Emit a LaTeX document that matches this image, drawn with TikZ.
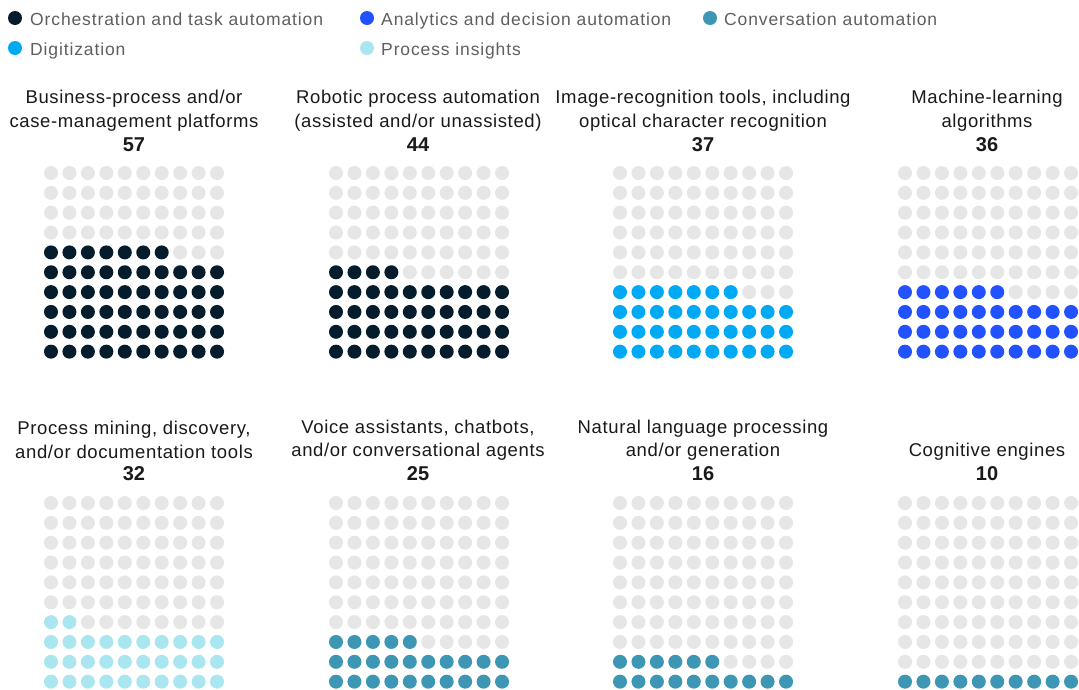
\documentclass[tikz,border=0pt]{standalone}
\usepackage{fontspec}
\setmainfont{Liberation Sans}
\definecolor{orchblue}{HTML}{051C2C}
\definecolor{analyticsblue}{HTML}{2251FF}
\definecolor{digicyan}{HTML}{00A9F4}
\definecolor{insightcyan}{HTML}{AAE6F0}
\definecolor{convteal}{HTML}{3C96B4}
\definecolor{dotgrey}{HTML}{E6E6E6}
\definecolor{legendgrey}{HTML}{5F5F5F}
\definecolor{titleblack}{HTML}{1A1A1A}
\tikzset{
  legendtext/.style={anchor=base west, inner sep=0pt, text=legendgrey,
    font=\fontsize{17.5}{20}\selectfont\addfontfeature{LetterSpace=5}},
  legenddot/.style={circle, inner sep=0pt, minimum size=14pt},
  paneltitle/.style={align=center, inner sep=0pt, text=titleblack,
    font=\fontsize{18.5}{23.5}\selectfont\addfontfeature{LetterSpace=3.4}},
  panelnum/.style={inner sep=0pt, text=titleblack, font=\fontsize{20}{20}\selectfont\bfseries}
}
\begin{document}
\begin{tikzpicture}[x=1pt,y=-1pt]
\useasboundingbox [fill=white] (0,0) rectangle (1079,689);
% legend
\node (ld1) [legenddot, fill=orchblue] at (15,18) {};
\node (lt1) [legendtext] at (30,25) {Orchestration and task automation};
\node (ld2) [legenddot, fill=analyticsblue] at (367,18) {};
\node (lt2) [legendtext] at (381,25) {Analytics and decision automation};
\node (ld3) [legenddot, fill=convteal] at (710,18) {};
\node (lt3) [legendtext] at (724,25) {Conversation automation};
\node (ld4) [legenddot, fill=digicyan] at (15,48) {};
\node (lt4) [legendtext] at (30,55) {Digitization};
\node (ld5) [legenddot, fill=insightcyan] at (367,48) {};
\node (lt5) [legendtext] at (381,55) {Process insights};
% titles
\node (bpm) [paneltitle] at (134,110.5) {Business-process and/or\\case-management platforms};
\node (bpmnum) [panelnum] at (134,145) {57};
\node (rpa) [paneltitle] at (418,110.5) {Robotic process automation\\(assisted and/or unassisted)};
\node (rpanum) [panelnum] at (418,145) {44};
\node (ocr) [paneltitle] at (703,110.5) {Image-recognition tools, including\\optical character recognition};
\node (ocrnum) [panelnum] at (703,145) {37};
\node (ml) [paneltitle] at (987,110.5) {Machine-learning\\algorithms};
\node (mlnum) [panelnum] at (987,145) {36};
\node (mining) [paneltitle] at (134,440) {Process mining, discovery,\\and/or documentation tools};
\node (miningnum) [panelnum] at (134,474) {32};
\node (voice) [paneltitle] at (418,440) {Voice assistants, chatbots,\\and/or conversational agents};
\node (voicenum) [panelnum] at (418,474) {25};
\node (nlp) [paneltitle] at (703,440) {Natural language processing\\and/or generation};
\node (nlpnum) [panelnum] at (703,474) {16};
\node (cog) [paneltitle] at (987,452) {Cognitive engines};
\node (cognum) [panelnum] at (987,474) {10};
% dot grids, filled from the bottom left
\foreach \px/\py/\n/\col in {51/173/57/orchblue, 336/173/44/orchblue, 620/173/37/digicyan, 905/173/36/analyticsblue,
                             51/503/32/insightcyan, 336/503/25/convteal, 620/503/16/convteal, 905/503/10/convteal}
  \foreach \r in {0,...,9}
    \foreach \c in {0,...,9} {
      \pgfmathtruncatemacro\k{(9-\r)*10+\c}
      \ifnum\k<\n
        \fill [fill=\col] (\px+18.45*\c,\py+19.85*\r) circle (7);
      \else
        \fill [fill=dotgrey] (\px+18.45*\c,\py+19.85*\r) circle (7);
      \fi
    }
\end{tikzpicture}
\end{document}
